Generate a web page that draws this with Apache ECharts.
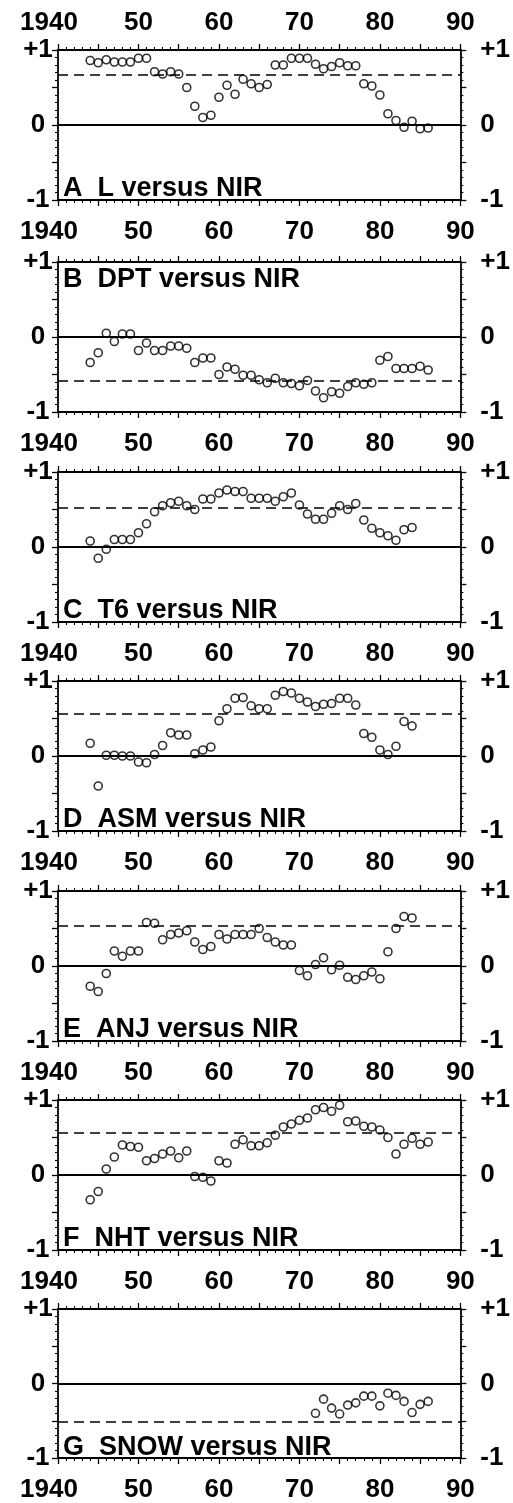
<!DOCTYPE html>
<html>
<head>
<meta charset="utf-8">
<script src="https://cdn.jsdelivr.net/npm/echarts@6/dist/echarts.min.js"></script>
<style>
html,body{margin:0;padding:0;background:#fff;}
#chart{width:513px;height:1503px;}
</style>
</head>
<body>
<div id="chart"></div>
<script>
// ---- data ----
const years1944to1986 = [1944,1945,1946,1947,1948,1949,1950,1951,1952,1953,1954,1955,1956,1957,1958,1959,1960,1961,1962,1963,1964,1965,1966,1967,1968,1969,1970,1971,1972,1973,1974,1975,1976,1977,1978,1979,1980,1981,1982,1983,1984,1985,1986];
const years1944to1984 = [1944,1945,1946,1947,1948,1949,1950,1951,1952,1953,1954,1955,1956,1957,1958,1959,1960,1961,1962,1963,1964,1965,1966,1967,1968,1969,1970,1971,1972,1973,1974,1975,1976,1977,1978,1979,1980,1981,1982,1983,1984];
const years1972to1986 = [1972,1973,1974,1975,1976,1977,1978,1979,1980,1981,1982,1983,1984,1985,1986];

const lVsNir = [0.86,0.83,0.87,0.84,0.84,0.84,0.89,0.89,0.71,0.68,0.71,0.68,0.50,0.25,0.10,0.13,0.37,0.53,0.41,0.61,0.55,0.50,0.54,0.80,0.80,0.89,0.89,0.89,0.81,0.75,0.78,0.83,0.79,0.79,0.55,0.52,0.40,0.15,0.06,-0.03,0.05,-0.05,-0.04];
const dptVsNir = [-0.34,-0.21,0.05,-0.06,0.04,0.04,-0.18,-0.08,-0.18,-0.18,-0.12,-0.12,-0.15,-0.34,-0.28,-0.28,-0.50,-0.40,-0.43,-0.51,-0.51,-0.57,-0.61,-0.55,-0.61,-0.62,-0.65,-0.58,-0.72,-0.81,-0.73,-0.75,-0.66,-0.61,-0.63,-0.61,-0.31,-0.26,-0.42,-0.42,-0.42,-0.39,-0.44];
const t6VsNir = [0.08,-0.15,-0.03,0.10,0.10,0.10,0.19,0.31,0.47,0.55,0.59,0.61,0.55,0.50,0.64,0.64,0.72,0.76,0.74,0.74,0.65,0.65,0.65,0.61,0.67,0.72,0.56,0.44,0.37,0.37,0.45,0.55,0.50,0.58,0.36,0.25,0.19,0.15,0.09,0.23,0.26];
const asmVsNir = [0.17,-0.40,0.01,0.01,0.00,0.00,-0.08,-0.09,0.02,0.14,0.31,0.28,0.28,0.03,0.08,0.12,0.47,0.63,0.77,0.78,0.67,0.63,0.63,0.81,0.86,0.84,0.77,0.72,0.66,0.69,0.70,0.77,0.77,0.68,0.30,0.25,0.08,0.02,0.13,0.46,0.40];
const anjVsNir = [-0.27,-0.34,-0.10,0.20,0.13,0.20,0.20,0.58,0.57,0.35,0.42,0.44,0.47,0.32,0.22,0.26,0.42,0.36,0.42,0.42,0.42,0.50,0.38,0.32,0.28,0.28,-0.06,-0.13,0.02,0.11,-0.05,0.01,-0.15,-0.18,-0.13,-0.08,-0.17,0.19,0.50,0.66,0.64];
const nhtVsNir = [-0.33,-0.22,0.08,0.24,0.40,0.38,0.37,0.19,0.22,0.28,0.32,0.23,0.32,-0.02,-0.03,-0.08,0.19,0.16,0.41,0.47,0.39,0.39,0.43,0.53,0.64,0.68,0.73,0.76,0.87,0.90,0.85,0.93,0.71,0.72,0.65,0.64,0.60,0.50,0.28,0.41,0.49,0.41,0.44];
const snowVsNir = [-0.40,-0.21,-0.33,-0.41,-0.29,-0.26,-0.17,-0.17,-0.30,-0.13,-0.16,-0.24,-0.39,-0.28,-0.24];

const panelTitles = ['A  L versus NIR','B  DPT versus NIR','C  T6 versus NIR','D  ASM versus NIR','E  ANJ versus NIR','F  NHT versus NIR','G  SNOW versus NIR'];
const panelYears = [years1944to1986, years1944to1986, years1944to1984, years1944to1984, years1944to1984, years1944to1986, years1972to1986];
const panelValues = [lVsNir, dptVsNir, t6VsNir, asmVsNir, anjVsNir, nhtVsNir, snowVsNir];
const significanceLevels = [0.67, -0.58, 0.53, 0.57, 0.54, 0.56, -0.52];
const titleAtTop = [false, true, false, false, false, false, false];

const xTickValues = [1940, 1950, 1960, 1970, 1980, 1990];
const xTickLabels = ['{first|1940}', '50', '60', '70', '80', '90'];
const yTickValues = [-1, 0, 1];
const yTickLabels = ['-1', '0', '+1'];

// ---- layout ----
const FONT = "'Liberation Sans', Arial, Helvetica, sans-serif";
const gridTops = [50, 262, 472, 681, 891, 1100, 1309];
const gridH = 150, gridLeft = 58, gridRight = 50;

function lookup(vals, labels, v) {
  for (let k = 0; k < vals.length; k++) if (Math.abs(vals[k] - v) < 1e-6) return labels[k];
  return '';
}

const grids = [], xAxes = [], yAxes = [], series = [], graphics = [];
const lineBlack = {color: '#000', width: 1.8};

for (let i = 0; i < 7; i++) {
  grids.push({left: gridLeft, right: gridRight, top: gridTops[i], height: gridH, containLabel: false});
  ['bottom', 'top'].forEach(function (pos) {
    xAxes.push({
      gridIndex: i, type: 'value', position: pos, min: 1940, max: 1990, interval: 5,
      axisLine: {show: true, onZero: false, lineStyle: lineBlack},
      axisTick: {show: true, inside: false, length: 6, lineStyle: {color: '#000', width: 1.3}},
      minorTick: {show: true, splitNumber: 5, length: 3, lineStyle: {color: '#000', width: 1.1}},
      splitLine: {show: false},
      axisLabel: {
        show: pos === 'bottom' || i === 0,
        formatter: function (v) { return lookup(xTickValues, xTickLabels, v); },
        fontSize: 26, fontWeight: 'bold', fontFamily: FONT, color: '#000',
        margin: pos === 'bottom' ? 19 : 14, lineHeight: 26,
        rich: {first: {fontSize: 26, fontWeight: 'bold', fontFamily: FONT, color: '#000', lineHeight: 26, padding: [0, 18, 0, 0]}}
      }
    });
  });
  ['left', 'right'].forEach(function (pos) {
    yAxes.push({
      gridIndex: i, type: 'value', position: pos, min: -1, max: 1, interval: 0.5,
      axisLine: {show: true, onZero: false, lineStyle: lineBlack},
      axisTick: {show: true, inside: false, length: 6, lineStyle: {color: '#000', width: 1.3}},
      minorTick: {show: true, splitNumber: 5, length: 3, lineStyle: {color: '#000', width: 1.1}},
      splitLine: {show: false},
      axisLabel: {
        show: true,
        formatter: function (v) { return lookup(yTickValues, yTickLabels, v); },
        fontSize: 26, fontWeight: 'bold', fontFamily: FONT, color: '#000',
        align: pos === 'left' ? 'center' : 'left',
        margin: 20
      }
    });
  });
  const pts = panelYears[i].map(function (y, k) { return [y, panelValues[i][k]]; });
  series.push({
    type: 'scatter', xAxisIndex: 2 * i, yAxisIndex: 2 * i, data: pts,
    symbol: 'circle', symbolSize: 8,
    itemStyle: {color: 'rgba(255,255,255,0)', borderColor: '#000', borderWidth: 1.6},
    z: 5,
    markLine: {
      silent: true, symbol: ['none', 'none'], label: {show: false}, animation: false,
      data: [
        {yAxis: 0, lineStyle: {color: '#000', width: 1.8, type: 'solid'}},
        {yAxis: significanceLevels[i], lineStyle: {color: '#000', width: 1.6, type: [10, 6]}}
      ]
    }
  });
  const ty = titleAtTop[i] ? gridTops[i] + 18 : gridTops[i] + gridH - 11;
  graphics.push({
    type: 'text', x: 63, y: ty, z: 10,
    style: {text: panelTitles[i], fontSize: 27, fontWeight: 'bold', fontFamily: FONT, fill: '#000', align: 'left', verticalAlign: 'middle'}
  });
}

const chart = echarts.init(document.getElementById('chart'), null, {renderer: 'canvas'});
chart.setOption({
  animation: false,
  backgroundColor: '#fff',
  grid: grids, xAxis: xAxes, yAxis: yAxes, series: series, graphic: graphics
});
</script>
</body>
</html>
